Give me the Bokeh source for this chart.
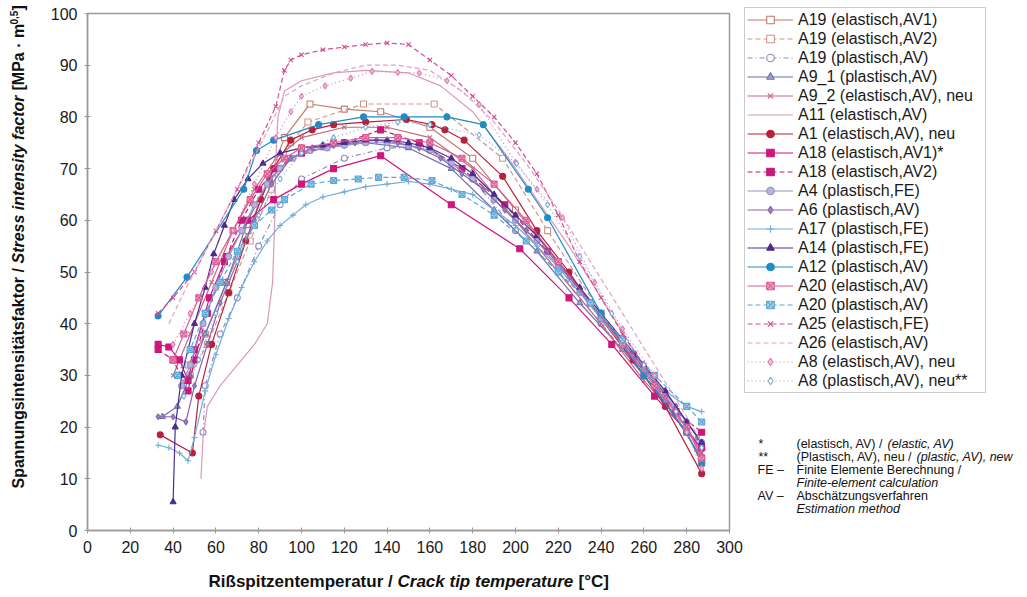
import math
from bokeh.plotting import figure
from bokeh.layouts import row, column
from bokeh.models import Legend, LegendItem, Label, FixedTicker, Range1d
from bokeh.embed import file_html
from bokeh.resources import INLINE

# ---------------- data ----------------
x_ticks = list(range(0, 301, 20))
y_ticks = list(range(0, 101, 10))

a19_el_av1_x = [47, 55, 65, 75, 85, 92, 104, 120, 137, 160, 180, 200, 220, 240, 260, 280, 287]
a19_el_av1_y = [32, 38, 48, 58, 68, 76, 82.5, 81.5, 81, 78, 72, 62, 52, 41, 30, 19, 13]

a19_el_av2_x = [48, 56, 66, 76, 86, 95, 103, 129, 162, 194, 215, 240, 262, 287]
a19_el_av2_y = [30, 36, 46, 56, 66, 75, 79, 82.5, 82.5, 72, 58, 42, 30, 14]

a19_pl_x = [54, 55, 62, 70, 80, 90, 100, 120, 140, 160, 180, 200, 220, 240, 260, 287]
a19_pl_y = [19, 28, 38, 45, 55, 63, 68, 72, 74, 74, 68, 58, 50, 40, 30, 16]

a9_1_x = [35, 42, 48, 55, 65, 75, 85, 95, 110, 130, 150, 170, 190, 210, 230, 250, 270, 287]
a9_1_y = [22, 24, 30, 38, 48, 60, 68, 72, 74, 75, 74, 70, 62, 54, 44, 35, 25, 14]

a9_2_x = [40, 48, 58, 68, 78, 88, 100, 120, 140, 160, 180, 200, 220, 240, 260, 280, 287]
a9_2_y = [30, 38, 48, 58, 66, 72, 76, 78, 78, 76, 70, 60, 50, 40, 29, 20, 15]

a11_x = [53, 54, 56, 62, 70, 78, 84, 86.5, 87.5, 88, 89, 92, 100, 115, 130, 150, 165, 180, 195, 210, 225, 240, 255, 270, 287]
a11_y = [10, 18, 24, 28, 32, 36, 40, 48, 60, 72, 80, 85, 87, 88.5, 89, 88.5, 86, 81, 73, 64, 55, 45, 35, 26, 15]

a1_x = [34, 49, 52, 58, 66, 74, 81, 87, 95, 105, 115, 130, 149, 161, 167, 176, 194, 210, 225, 240, 255, 270, 287]
a1_y = [18.5, 15, 26, 36, 46, 56, 64, 70, 75.5, 77.5, 78.5, 79, 79.5, 78.5, 77.5, 75.5, 68.5, 58, 50, 41, 33, 24, 11]

a18_av1_x = [33, 38, 43, 47, 50, 57, 65, 75, 87, 100, 115, 137, 170, 202, 225, 245, 265, 287]
a18_av1_y = [36, 35.5, 33, 29, 35, 45, 53, 60, 64, 67, 70, 72.5, 63, 54.5, 45, 36, 26, 16]

a18_av2_x = [33, 40, 47, 50, 56, 64, 72, 80, 88, 100, 120, 137, 155, 175, 195, 215, 235, 255, 275, 287]
a18_av2_y = [35, 33, 27, 33, 42, 52, 60, 66, 70, 73, 75, 77.5, 75, 70, 63, 54, 44, 34, 23, 19]

a4_x = [44, 48, 54, 60, 66, 72, 78, 84, 90, 96, 104, 112, 120, 130, 140, 150, 160, 170, 180, 190, 200, 210, 220, 230, 240, 250, 260, 270, 280, 287]
a4_y = [28, 32, 40, 47, 53, 58, 63, 67, 70, 72, 73.5, 74, 74.5, 75, 75, 74.5, 73.5, 71, 68, 64, 60, 56, 51, 46, 41, 36, 31, 26, 21, 17]

a6_x = [33, 40, 46, 50, 56, 62, 70, 78, 86, 95, 105, 115, 125, 135, 145, 155, 165, 175, 185, 195, 205, 215, 225, 235, 245, 255, 265, 275, 285, 287]
a6_y = [22, 22, 21, 28, 36, 44, 52, 60, 67, 72, 74, 74.5, 75, 75.5, 75, 74, 72, 69, 66, 62, 58, 54, 49, 44, 39, 34, 29, 24, 18, 17]

a17_x = [33, 38, 43, 47, 50, 55, 60, 66, 72, 78, 84, 90, 96, 102, 110, 120, 130, 140, 150, 160, 170, 180, 190, 200, 210, 220, 230, 240, 250, 260, 270, 280, 287]
a17_y = [16.5, 16, 15, 13.5, 18, 27, 34, 41, 47, 52, 56, 59, 61, 63, 64.5, 65.5, 66.5, 67, 67.5, 67, 66, 65, 62, 59, 55, 51, 46, 41, 36, 31, 27, 24, 23]

a14_x = [40, 41, 44, 50, 55, 59, 64, 68.5, 75, 82, 90, 100, 110, 120, 130, 140, 150, 160, 170, 180, 190, 200, 210, 220, 230, 240, 250, 260, 270, 280, 287]
a14_y = [5.5, 20, 30, 40, 47, 53.5, 59, 64, 68, 71, 73, 74, 74.5, 75, 75.5, 75.5, 75, 74, 72, 69, 65, 61, 57, 52, 47, 42, 37, 32, 27, 21, 17]

a12_x = [33, 46.5, 73, 79, 87, 108, 129, 148, 168, 185, 206, 215, 240, 260, 280, 287]
a12_y = [41.5, 49, 66, 73.5, 75.5, 78.5, 80, 80, 80, 78.5, 66, 60.5, 42, 30, 19, 13]

a20_el_x = [40, 45, 52, 60, 68, 76, 84, 92, 100, 115, 130, 145, 160, 175, 190, 205, 220, 235, 250, 265, 280, 287]
a20_el_y = [33, 38, 45, 52, 58, 64, 69, 72, 74, 75, 76, 76, 75, 72, 67, 60, 52, 44, 36, 28, 20, 14]

a20_pl_x = [42, 48, 55, 62, 70, 78, 86, 92, 104.5, 115, 126.5, 136, 148, 161, 175, 190, 205, 220, 235, 250, 265, 280, 287]
a20_pl_y = [30, 35, 42, 48, 54, 59, 62, 64, 67, 67.7, 68, 68.3, 68.3, 67.7, 65, 61, 56, 50, 44, 37, 30, 24, 21]

a25_x = [33, 40, 50, 60, 70, 80, 88, 92, 95, 100, 110, 120, 130, 140, 150, 160, 170, 180, 190, 200, 210, 220, 230, 240, 250, 260, 270, 280, 287]
a25_y = [42, 45, 50, 58, 66, 75, 82, 89, 91, 92, 93, 93.5, 94, 94.3, 94, 91, 88, 84, 80, 75, 69, 61, 52, 45, 38, 32, 26, 20, 15]

a26_x = [38, 45, 55, 65, 75, 85, 92, 100, 115, 130, 145, 160, 175, 190, 205, 220, 235, 250, 265, 280, 287]
a26_y = [40, 46, 54, 62, 70, 78, 84, 86, 88.5, 90, 90, 89, 85, 79, 71, 62, 52, 42, 32, 22, 17]

a8_el_x = [40, 48, 58, 68, 78, 88, 95, 100, 111, 123, 133, 145, 155, 168, 183, 200, 210, 222, 237, 250, 265, 280, 287]
a8_el_y = [36, 42, 50, 58, 67, 76, 81, 84, 86, 87.5, 88.8, 88.6, 88.5, 87, 82.4, 71.2, 66, 60.5, 48, 39, 30, 19, 12]

a8_pl_x = [45, 52, 60, 70, 80, 90, 100, 115, 130, 145, 160, 183, 200.5, 215, 230, 245, 260, 275, 287]
a8_pl_y = [26, 33, 42, 52, 61, 68, 73, 76, 78, 79, 78.5, 76.5, 71, 63, 53, 42, 32, 23, 16]

labels = [
    "A19 (elastisch,AV1)", "A19 (elastisch,AV2)", "A19 (plastisch,AV)", "A9_1 (plastisch,AV)",
    "A9_2 (elastisch,AV), neu", "A11 (elastisch,AV)", "A1 (elastisch,AV), neu", "A18 (elastisch,AV1)*",
    "A18 (elastisch,AV2)", "A4 (plastisch,FE)", "A6 (plastisch,AV)", "A17 (plastisch,FE)",
    "A14 (plastisch,FE)", "A12 (plastisch,AV)", "A20 (elastisch,AV)", "A20 (plastisch,AV)",
    "A25 (elastisch,FE)", "A26 (elastisch,AV)", "A8 (elastisch,AV), neu", "A8 (plastisch,AV), neu**",
]
xs_all = [a19_el_av1_x, a19_el_av2_x, a19_pl_x, a9_1_x, a9_2_x, a11_x, a1_x, a18_av1_x, a18_av2_x, a4_x,
          a6_x, a17_x, a14_x, a12_x, a20_el_x, a20_pl_x, a25_x, a26_x, a8_el_x, a8_pl_x]
ys_all = [a19_el_av1_y, a19_el_av2_y, a19_pl_y, a9_1_y, a9_2_y, a11_y, a1_y, a18_av1_y, a18_av2_y, a4_y,
          a6_y, a17_y, a14_y, a12_y, a20_el_y, a20_pl_y, a25_y, a26_y, a8_el_y, a8_pl_y]

# ---------------- styles ----------------
DASH = {"solid": "solid", "dashed": "5 3", "dashdot": "5 3 1 3", "dotted": "1 3"}
styles = [
    ("#c4786c", "solid", "square", "white"),
    ("#d4948a", "dashed", "square", "white"),
    ("#8a8cc4", "dashdot", "circle", "white"),
    ("#6e70b0", "solid", "triangle", "#a0a0d0"),
    ("#c46a7c", "solid", "x", None),
    ("#d89ab8", "solid", None, None),
    ("#b8203c", "solid", "circle", "#b8203c"),
    ("#d0157c", "solid", "square", "#d0157c"),
    ("#c8187a", "dashed", "square", "#c8187a"),
    ("#9494c8", "solid", "circle", "#b4b4dc"),
    ("#8a64aa", "solid", "diamond", "#9a80c0"),
    ("#74acd8", "solid", "cross", None),
    ("#4a2c8e", "solid", "triangle", "#4a2c8e"),
    ("#1f8cc4", "solid", "circle", "#1f8cc4"),
    ("#dc5a94", "solid", "square_x", "#f0a0c4"),
    ("#5aa6d8", "dashed", "square_x", "#a8d0ec"),
    ("#d44c92", "dashed", "x", None),
    ("#e4a0c4", "dashed", None, None),
    ("#e07ab4", "dotted", "diamond", "#f4c0dc"),
    ("#78acd8", "dotted", "diamond", "white"),
]

FONT = "Liberation Sans"
W, H = 1027, 597
TOP_H = 562                      # height of the upper row
YL_W = 40                        # width of the y-title strip
MAIN_R = 743                     # right edge of main plot canvas
FRAME_L, FRAME_R, FRAME_T, FRAME_B = 87, 729, 13, 530


def blank(width, height):
    f = figure(width=width, height=height, output_backend="svg", toolbar_location=None,
               x_range=Range1d(0, 1), y_range=Range1d(0, 1),
               x_axis_location=None, y_axis_location=None,
               min_border=0, min_border_left=0, min_border_right=0,
               min_border_top=0, min_border_bottom=0, frame_align=False)
    f.xgrid.visible = False
    f.ygrid.visible = False
    f.outline_line_color = None
    f.background_fill_color = "white"
    f.border_fill_color = "white"
    return f


def add_text(f, f_left, f_top, f_h, text, sx, sy, size="16px", style="normal",
             angle=0.0, align="left", baseline="middle"):
    """place text at page pixel (sx, sy) inside blank figure f whose canvas starts at (f_left, f_top)"""
    f.add_layout(Label(x=sx - f_left, y=f_h - (sy - f_top), x_units="screen", y_units="screen",
                       text=text, text_font=FONT, text_font_size=size, text_font_style=style,
                       text_color="#111111", angle=angle, text_align=align, text_baseline=baseline))


# ---------------- main plot ----------------
p = figure(width=MAIN_R - YL_W, height=TOP_H, output_backend="svg", toolbar_location=None,
           x_range=Range1d(0, 300), y_range=Range1d(0, 100),
           min_border_left=FRAME_L - YL_W, min_border_right=MAIN_R - FRAME_R,
           min_border_top=FRAME_T, min_border_bottom=TOP_H - FRAME_B, frame_align=False)
p.xgrid.visible = False
p.ygrid.visible = False
p.outline_line_color = "#9a9a9a"
p.outline_line_width = 1.5
p.background_fill_color = "white"
p.border_fill_color = "white"
for ax in (p.xaxis[0], p.yaxis[0]):
    ax.axis_line_color = "#9a9a9a"
    ax.axis_line_width = 1.5
    ax.major_tick_line_color = "#9a9a9a"
    ax.major_tick_in = 3
    ax.major_tick_out = 3
    ax.minor_tick_line_color = None
    ax.major_label_text_font = FONT
    ax.major_label_text_font_size = "16px"
    ax.major_label_text_color = "#1a1a1a"
p.xaxis[0].ticker = FixedTicker(ticks=x_ticks)
p.yaxis[0].ticker = FixedTicker(ticks=y_ticks)
p.xaxis[0].major_label_standoff = 7
p.yaxis[0].major_label_standoff = 7

for xs, ys, (col, dash, mk, fill) in zip(xs_all, ys_all, styles):
    p.line(xs, ys, line_color=col, line_width=1.2, line_dash=DASH[dash])
    if mk is not None:
        p.scatter(xs, ys, marker=mk, size=6, line_color=col, line_width=1.1,
                  fill_color=fill if fill else col)

# ---------------- right strip: legend + footnotes ----------------
SIDE_W = W - MAIN_R
side = blank(SIDE_W, TOP_H)
items = []
for lab, (col, dash, mk, fill) in zip(labels, styles):
    # legend-only glyphs: one point outside the strip's visible range
    rs = [side.line([5], [5], line_color=col, line_width=1.2, line_dash=DASH[dash])]
    if mk is not None:
        rs.append(side.scatter([5], [5], marker=mk, size=5, line_color=col, line_width=1.1,
                               fill_color=fill if fill else col))
    items.append(LegendItem(label=lab, renderers=rs))

LEG_L, LEG_B = MAIN_R + 1, 393
legend = Legend(items=items, location=(LEG_L - MAIN_R, TOP_H - LEG_B),
                glyph_width=46, glyph_height=19, label_height=19, spacing=0,
                padding=2, margin=0, label_standoff=5, label_width=185,
                border_line_color="#9a9a9a", border_line_width=1.5,
                background_fill_color="white", background_fill_alpha=1.0,
                label_text_font=FONT, label_text_font_size="16px", label_text_color="#1a1a1a")
side.add_layout(legend)

fn = "12.5px"
rows = [443, 456, 469, 482, 495, 508]
foot = [
    ("*", 758, 0, "normal"), ("(elastisch, AV) /", 796, 0, "normal"), ("(elastic, AV)", 887, 0, "italic"),
    ("**", 758, 1, "normal"), ("(Plastisch, AV), neu /", 796, 1, "normal"), ("(plastic, AV), new", 916, 1, "italic"),
    ("FE –", 757, 2, "normal"), ("Finite Elemente Berechnung /", 796, 2, "normal"),
    ("Finite-element calculation", 796, 3, "italic"),
    ("AV –", 757, 4, "normal"), ("Abschätzungsverfahren", 796, 4, "normal"),
    ("Estimation method", 796, 5, "italic"),
]
for t, sx, r, st in foot:
    add_text(side, MAIN_R, 0, TOP_H, t, sx, rows[r], size=fn, style=st)

# ---------------- left strip: y title ----------------
ylab = blank(YL_W, TOP_H)
yl_x, yb = 18, 488
vert = math.pi / 2
add_text(ylab, 0, 0, TOP_H, "Spannungsintensitätsfaktor /", yl_x, yb, style="bold", angle=vert)
add_text(ylab, 0, 0, TOP_H, "Stress intensity factor", yl_x, yb - 225, style="bold italic", angle=vert)
add_text(ylab, 0, 0, TOP_H, "[MPa · m", yl_x, yb - 398, style="bold", angle=vert)
add_text(ylab, 0, 0, TOP_H, "0,5", yl_x - 5, yb - 464, size="10px", style="bold", angle=vert)
add_text(ylab, 0, 0, TOP_H, "]", yl_x, yb - 478, style="bold", angle=vert)

# ---------------- bottom strip: x title ----------------
XL_H = H - TOP_H
xlab = blank(W, XL_H)
xl_y, xs0 = 581, 208
add_text(xlab, 0, TOP_H, XL_H, "Rißspitzentemperatur /", xs0, xl_y, size="17px", style="bold")
add_text(xlab, 0, TOP_H, XL_H, "Crack tip temperature", xs0 + 189, xl_y, size="17px", style="bold italic")
add_text(xlab, 0, TOP_H, XL_H, "[°C]", xs0 + 370, xl_y, size="17px", style="bold")

layout = column(row(ylab, p, side, spacing=0), xlab, spacing=0)
open("out.html", "w").write(file_html(layout, INLINE))
